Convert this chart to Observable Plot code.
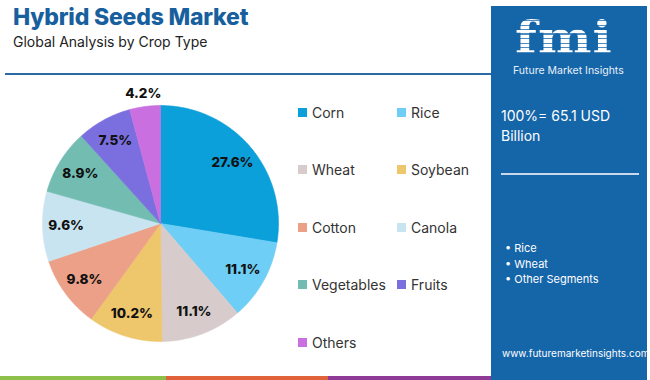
<!DOCTYPE html>
<html>
<head>
<meta charset="utf-8">
<script src="https://cdn.jsdelivr.net/npm/d3@7"></script>
<script src="https://cdn.jsdelivr.net/npm/@observablehq/plot@0.6"></script>
<style>
  html, body { margin: 0; padding: 0; background: #fff; }
  #wrap { position: relative; width: 650px; height: 380px; overflow: hidden; font-family: "Inter", "Lato", sans-serif; }
  #chart { position: absolute; left: 0; top: 0; }
  .abs { position: absolute; }
  #title { left: 13px; top: 3px; font-size: 23px; font-weight: 800; color: #17609d; letter-spacing: -0.2px; }
  #subtitle { left: 13px; top: 33px; font-size: 14px; color: #222; }
  #rule { left: 5px; top: 73px; width: 486px; height: 1.5px; background: #2b6aa3; }
  #panel { left: 491px; top: 6px; width: 156px; height: 374px; background: #1565a9; color: #fff; }
  #logo { left: 24px; top: 11px; height: 42px; font-family: "DejaVu Serif", serif; font-weight: 700; font-size: 44px; line-height: 42px;
    background: repeating-linear-gradient(to bottom, #fff 0 3px, rgba(255,255,255,0.25) 3px 4.5px);
    -webkit-background-clip: text; background-clip: text; color: transparent; letter-spacing: 1px; transform: scaleX(1.15); transform-origin: left top; }
  #logosub { left: 22px; top: 58px; font-size: 10.5px; line-height: 13px; color: #e8f0f8; }
  #total { left: 10px; top: 100px; font-size: 14px; line-height: 19.5px; color: #fff; }
  #prule { left: 10px; top: 167px; width: 138px; height: 1.5px; background: #c9d8ea; }
  #bullets { left: 14px; top: 235px; font-size: 11px; color: #fff; line-height: 15.5px; }
  #url { left: 11px; top: 341px; font-size: 10px; color: #fff; white-space: nowrap; }
  .strip { position: absolute; top: 376px; height: 4px; }
  .leg { position: absolute; font-size: 14px; color: #333; display: flex; align-items: center; }
  .leg i { display: inline-block; width: 9px; height: 9px; margin-right: 5px; }
</style>
</head>
<body>
<div id="wrap">
  <div id="chart"></div>
</div>
<script>
// ---- data ----
const categories = ["Corn", "Rice", "Wheat", "Soybean", "Cotton", "Canola", "Vegetables", "Fruits", "Others"];
const shares = [27.6, 11.1, 11.1, 10.2, 9.8, 9.6, 8.9, 7.5, 4.2];
const shareLabels = ["27.6%", "11.1%", "11.1%", "10.2%", "9.8%", "9.6%", "8.9%", "7.5%", "4.2%"];
const colors = ["#0ba0da", "#6ecef5", "#d7cccb", "#eec66c", "#eca087", "#c9e4f1", "#72bcb1", "#7b6fe0", "#c96fe0"];
const bullets = ["Rice", "Wheat", "Other Segments"];
const stripColors = ["#8cc04b", "#e0623a", "#8e3a96"];

// ---- pie geometry from d3.pie ----
const arcs = d3.pie().sort(null).value(d => d)(shares);
const poly = [];
arcs.forEach((a, i) => {
  const name = categories[i];
  poly.push({name, x: 0, y: 0});
  const n = Math.max(4, Math.ceil((a.endAngle - a.startAngle) / 0.01));
  for (let k = 0; k <= n; k++) {
    const t = a.startAngle + (a.endAngle - a.startAngle) * k / n;
    poly.push({name, x: Math.sin(t), y: Math.cos(t)});
  }
  poly.push({name, x: 0, y: 0});
});
const labelData = arcs.map((a, i) => {
  const m = (a.startAngle + a.endAngle) / 2;
  const r = shares[i] < 5 ? 1.11 : 0.8;
  return {label: shareLabels[i], x: Math.sin(m) * r, y: Math.cos(m) * r};
});

const R = 118, cx = 160, cy = 223, W = 650, H = 380;
const plot = Plot.plot({
  width: W, height: H,
  margin: 0,
  style: {background: "transparent", overflow: "visible"},
  x: {domain: [-cx / R, (W - cx) / R], axis: null},
  y: {domain: [-(H - cy) / R, cy / R], axis: null},
  color: {domain: categories, range: colors},
  marks: [
    Plot.line(poly, {x: "x", y: "y", z: "name", fill: "name", stroke: "name", strokeWidth: 0.6, curve: "linear-closed"}),
    Plot.text(labelData, {x: "x", y: "y", text: "label", fontSize: 13.5, fontWeight: 800, fill: "#111",
      fontFamily: "Inter, sans-serif"})
  ]
});
document.getElementById("chart").appendChild(plot);

const wrap = document.getElementById("wrap");
function add(html) { wrap.insertAdjacentHTML("beforeend", html); }
add(`<div id="title" class="abs">Hybrid Seeds Market</div>`);
add(`<div id="subtitle" class="abs">Global Analysis by Crop Type</div>`);
add(`<div id="rule" class="abs"></div>`);

// legend (2 columns)
categories.forEach((c, i) => {
  const col = i % 2, row = Math.floor(i / 2);
  const left = col === 0 ? 298 : 397;
  const top = 112 + row * 57.5 - 9;
  add(`<div class="leg" style="left:${left}px;top:${top}px;height:18px"><i style="background:${colors[i]}"></i>${c}</div>`);
});

// bottom strips
[[0, 166], [166, 328], [328, 492]].forEach((s, i) => {
  add(`<div class="strip" style="left:${s[0]}px;width:${s[1] - s[0]}px;background:${stripColors[i]}"></div>`);
});

// right panel
add(`<div id="panel" class="abs">
  <div id="logo" class="abs">fmi</div>
  <div id="logosub" class="abs">Future Market Insights</div>
  <div id="total" class="abs">100%= 65.1 USD<br>Billion</div>
  <div id="prule" class="abs"></div>
  <div id="bullets" class="abs">${bullets.map(b => "&bull; " + b).join("<br>")}</div>
  <div id="url" class="abs">www.futuremarketinsights.com</div>
</div>`);
</script>
</body>
</html>
